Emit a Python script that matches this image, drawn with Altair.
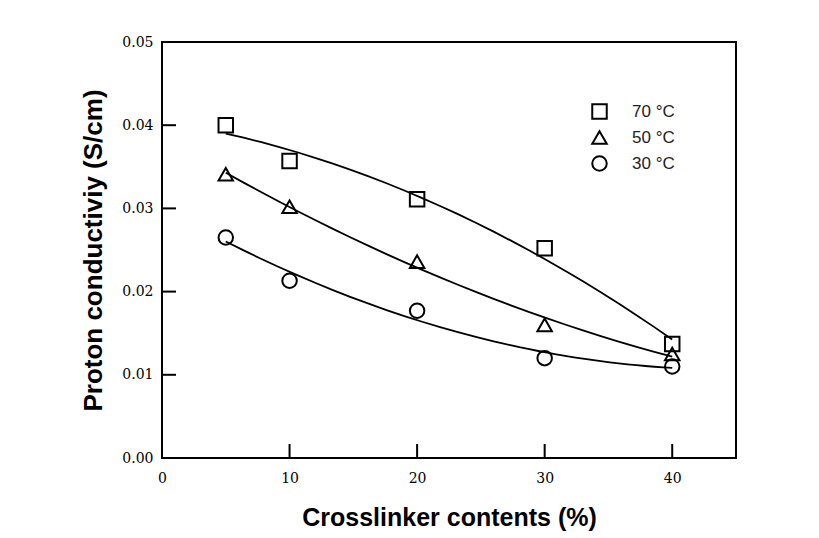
import altair as alt
import pandas as pd

crosslinker = [5, 10, 20, 30, 40]
cond_70 = [0.0400, 0.0357, 0.0311, 0.0252, 0.0137]
cond_50 = [0.0341, 0.0302, 0.0236, 0.0160, 0.0125]
cond_30 = [0.0265, 0.0213, 0.0177, 0.0120, 0.0110]
series_labels = ["70 °C", "50 °C", "30 °C"]
series_shapes = ["square", "triangle-up", "circle"]
x_ticks = [10, 20, 30, 40]
y_ticks = [0.01, 0.02, 0.03, 0.04]

rows = []
for lab, vals in zip(series_labels, [cond_70, cond_50, cond_30]):
    for x, y in zip(crosslinker, vals):
        rows.append({"x": x, "y": y, "temp": lab})
df = pd.DataFrame(rows)

W, H = 574, 416

xscale = alt.Scale(domain=[0, 45], nice=False)
yscale = alt.Scale(domain=[0, 0.05], nice=False)

base = alt.Chart(df)

points = base.mark_point(filled=False, color="black", strokeWidth=2, size=210, opacity=1).encode(
    x=alt.X("x:Q", scale=xscale,
            axis=alt.Axis(title="Crosslinker contents (%)", values=[0, 10, 20, 30, 40],
                          format="d", ticks=False, grid=False, domain=False, labelFlush=False,
                          labelFont="DejaVu Serif", labelFontSize=14, labelColor="black",
                          labelPadding=13, titleFont="Liberation Sans", titleFontSize=25,
                          titleFontWeight="bold", titleColor="black", titlePadding=20)),
    y=alt.Y("y:Q", scale=yscale,
            axis=alt.Axis(title="Proton conductiviy (S/cm)", values=[0, 0.01, 0.02, 0.03, 0.04, 0.05],
                          format=".2f", ticks=False, grid=False, domain=False, labelFlush=False,
                          labelFont="DejaVu Serif", labelFontSize=14, labelColor="black",
                          labelPadding=9, titleFont="Liberation Sans", titleFontSize=26,
                          titleFontWeight="bold", titleColor="black", titlePadding=15)),
    shape=alt.Shape("temp:N", scale=alt.Scale(domain=series_labels, range=series_shapes),
                    legend=alt.Legend(title=None, orient="none", legendX=429, legendY=61,
                                      labelFont="Liberation Sans", labelFontSize=17,
                                      labelColor="#222222", symbolSize=210,
                                      symbolStrokeColor="black", symbolStrokeWidth=2,
                                      symbolFillColor="white", labelOffset=24,
                                      rowPadding=4, padding=0)),
)

fits = base.transform_regression(
    "x", "y", groupby=["temp"], method="poly", order=2, extent=[5, 40]
).mark_line(color="black", strokeWidth=1.8).encode(
    x=alt.X("x:Q", scale=xscale),
    y=alt.Y("y:Q", scale=yscale),
    detail="temp:N",
)

xt = alt.Chart(pd.DataFrame({"v": x_ticks})).mark_rule(color="black", strokeWidth=2).encode(
    x=alt.X("v:Q", scale=xscale), y=alt.value(H), y2=alt.value(H - 14)
)
yt = alt.Chart(pd.DataFrame({"v": y_ticks})).mark_rule(color="black", strokeWidth=2).encode(
    y=alt.Y("v:Q", scale=yscale), x=alt.value(0), x2=alt.value(14)
)

chart = alt.layer(fits, points, xt, yt).properties(
    width=W, height=H,
    autosize=alt.AutoSizeParams(type="none"),
    padding={"left": 162, "top": 42, "right": 83, "bottom": 80},
    background="white",
).configure_view(stroke="black", strokeWidth=2)

chart.save("out.html", embed_options={"renderer": "svg", "actions": False})
